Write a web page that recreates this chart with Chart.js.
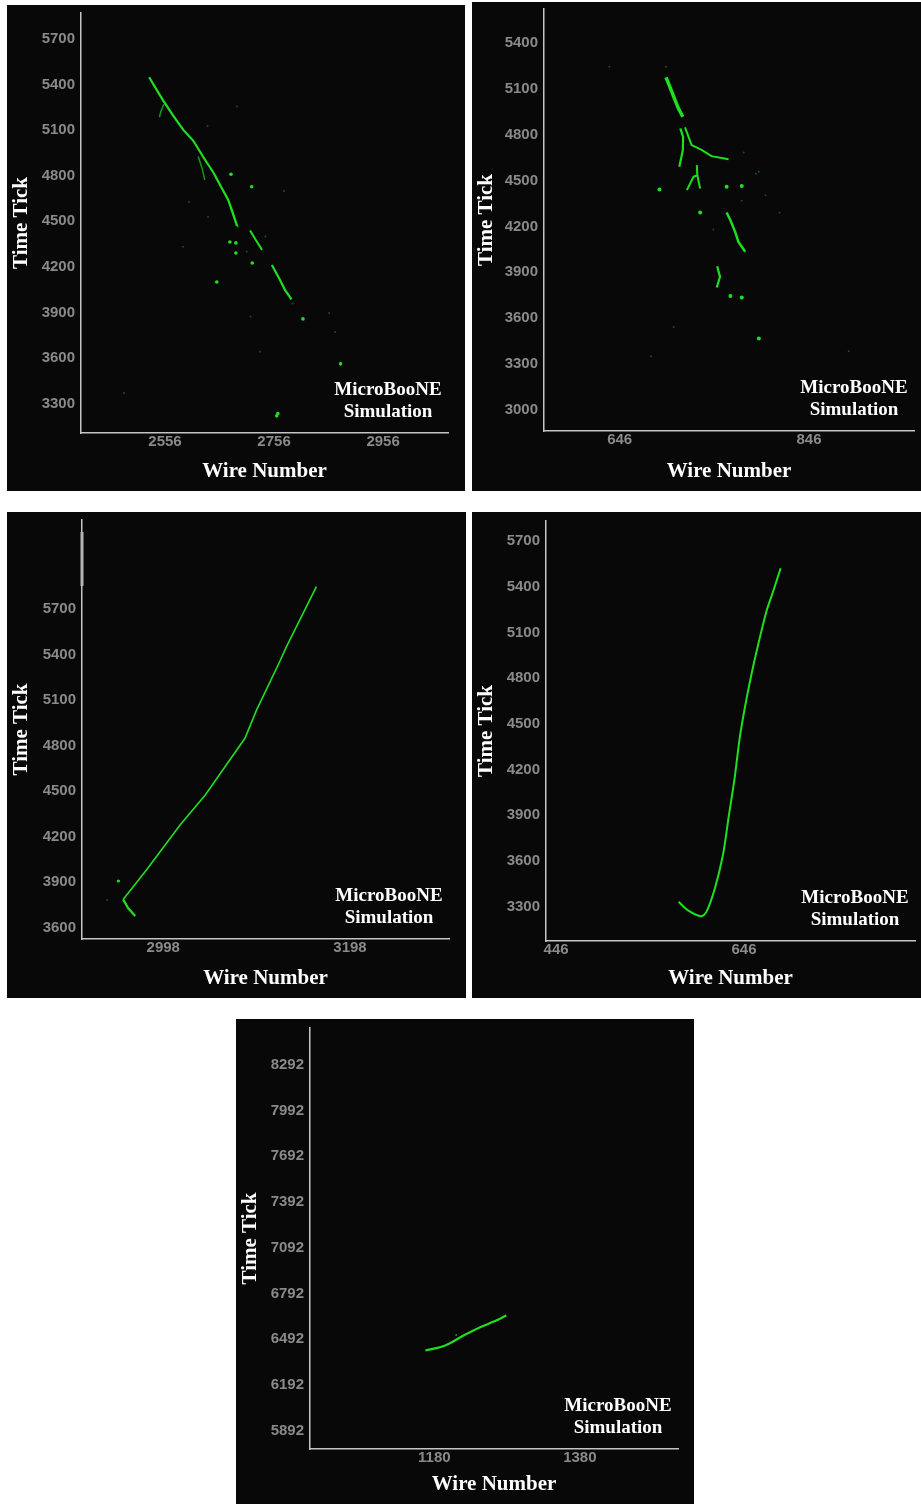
<!DOCTYPE html>
<html>
<head>
<meta charset="utf-8">
<script src="https://cdn.jsdelivr.net/npm/chart.js@4.4.1/dist/chart.umd.min.js"></script>
<style>
  body { margin: 0; background: #fff; width: 921px; height: 1504px; position: relative; }
  .panel { position: absolute; background: #080808; }
  .panel canvas { display: block; }
</style>
</head>
<body>
<div class="panel" style="left:7px;top:5px;width:458px;height:486px"><canvas id="c1" width="458" height="486"></canvas></div>
<div class="panel" style="left:472px;top:2px;width:449px;height:489px"><canvas id="c2" width="449" height="489"></canvas></div>
<div class="panel" style="left:7px;top:512px;width:459px;height:486px"><canvas id="c3" width="459" height="486"></canvas></div>
<div class="panel" style="left:472px;top:512px;width:449px;height:486px"><canvas id="c4" width="449" height="486"></canvas></div>
<div class="panel" style="left:236px;top:1019px;width:458px;height:485px"><canvas id="c5" width="458" height="485"></canvas></div>

<script>
// ---- data: [wire, time tick] pairs read from the event displays ----

// event 1
const ev1XTicks = [2556, 2756, 2956];
const ev1YTicks = [3300, 3600, 3900, 4200, 4500, 4800, 5100, 5400, 5700];
const ev1Track = [[2527,5448],[2540,5370],[2552,5299],[2570,5200],[2590,5100],[2608,5030],[2625,4930],[2645,4820],[2660,4720],[2672,4640],[2680,4560],[2688,4470]];
const ev1Branch1 = [[2554,5270],[2548,5220],[2546,5185]];
const ev1Branch2 = [[2617,4926],[2624,4850],[2629,4773]];
const ev1Branch3 = [[2676,4590],[2683,4520],[2690,4460]];
const ev1Seg2 = [[2712,4440],[2722,4380],[2734,4312]];
const ev1Seg3 = [[2752,4213],[2767,4114],[2776,4049],[2788,3987]];
const ev1Dots = [[2677,4810],[2715,4728],[2675,4364],[2686,4358],[2686,4292],[2716,4226],[2651,4101],[2809,3858],[2878,3562],[2761,3220],[2763,3235]];
const ev1Faint = [[2635,4529],[2706,4299],[2774,4700],[2713,3873],[2589,4332],[2634,5128],[2688,5255],[2481,3371],[2857,3897],[2868,3772],[2600,4628],[2730,3641],[2740,4400],[2790,3960]];

// event 2
const ev2XTicks = [646, 846];
const ev2YTicks = [3000, 3300, 3600, 3900, 4200, 4500, 4800, 5100, 5400];
const ev2TrackA = [[695,5177],[701,5083],[704.5,5028],[708,4974],[712.7,4919]];
const ev2TrackB = [[710,4843],[713,4788],[712.7,4700],[709,4591]];
const ev2BranchB = [[715,4849],[722,4733],[733,4700],[743,4661],[761,4641]];
const ev2TrackC = [[717,4438],[724,4525],[728,4536],[727.5,4602]];
const ev2TrackC2 = [[728,4536],[731,4449]];
const ev2TrackD = [[759,4292],[763,4241],[768,4165],[771.5,4099],[778.6,4034]];
const ev2TrackE = [[749,3940],[752,3870],[748.6,3800]];
const ev2Dots = [[688,4443],[759,4460],[775,4466],[731,4292],[763,3745],[775,3735],[793,3466]];
const ev2Faint = [[777,4685],[793,4558],[775,4368],[800,4405],[695,5247],[703,3542],[888,3382],[679,3350],[635,5247],[790,4545],[745,4180],[815,4290]];

// event 3
const ev3XTicks = [2998, 3198];
const ev3YTicks = [3600, 3900, 4200, 4500, 4800, 5100, 5400, 5700];
const ev3Track = [[2955,3787],[2980,3980],[3016,4277],[3043,4474],[3085.5,4848],[3098,5035],[3121,5331],[3130,5452],[3162,5847]];
const ev3Hook = [[2955,3787],[2960.5,3728],[2968,3677]];
const ev3Dots = [[2950,3908]];
const ev3Faint = [[2938,3783]];

// event 4
const ev4XTicks = [446, 646];
const ev4YTicks = [3300, 3600, 3900, 4200, 4500, 4800, 5100, 5400, 5700];
const ev4Track = [[576.4,3332],[586,3278],[600.5,3238],[606,3266],[615,3420],[623.6,3639],[629.7,3890],[636,4142],[641.4,4405],[646.8,4602],[653.8,4820],[661,5017],[669.8,5236],[676.9,5367],[685,5521]];

// event 5
const ev5XTicks = [1180, 1380];
const ev5YTicks = [5892, 6192, 6492, 6792, 7092, 7392, 7692, 7992, 8292];
const ev5Track = [[1167.6,6417],[1195,6450],[1220,6515],[1243,6570],[1261.6,6607],[1279,6647]];
const ev5Faint = [[1210,6519]];

// ---- styling ----
const GREEN = '#1ee01e';
const DIM = '#139a13';
const FAINT = '#0b5a0b';
const AXIS = '#c4c4c4';
const TICK = '#8a8a8a';
const tickFont = { family: '"Liberation Sans", Arial, sans-serif', size: 15, weight: 'bold', lineHeight: 1.2 };
const titleFont = { family: '"Liberation Serif", "Times New Roman", serif', size: 21, weight: 'bold', lineHeight: 1.2 };

const pts = arr => arr.map(p => ({ x: p[0], y: p[1] }));

function track(arr, width = 2, color = GREEN, tension = 0) {
    return { data: pts(arr), showLine: true, borderColor: color, borderWidth: width, pointRadius: 0, tension };
}

function dots(arr, r, color) {
    return { data: pts(arr), showLine: false, pointRadius: r, backgroundColor: color, borderWidth: 0 };
}

// "MicroBooNE Simulation" stamp in the lower right corner of the plot area
const simLabel = {
    id: 'simLabel',
    afterDraw(chart, args, opts) {
        const { ctx, chartArea: a } = chart;
        ctx.save();
        ctx.fillStyle = '#fff';
        ctx.font = 'bold 19px "Liberation Serif", "Times New Roman", serif';
        ctx.textAlign = 'center';
        ctx.textBaseline = 'middle';
        ctx.fillText('MicroBooNE', a.right - 60, a.bottom - 43);
        ctx.fillText('Simulation', a.right - 60, a.bottom - 21);
        // one display has a leftover scrollbar thumb on the time axis
        if (opts.scrollbar) {
            ctx.fillStyle = '#b4b4b4';
            ctx.fillRect(a.left - 1.5, a.top + 12, 3, 54);
        }
        ctx.restore();
    }
};

function makePanel(canvasId, box, xRange, yRange, xTicks, yTicks, datasets, extra = {}) {
    new Chart(document.getElementById(canvasId), {
        type: 'scatter',
        data: { datasets },
        options: {
            responsive: false,
            animation: false,
            layout: { padding: { top: box.top, right: box.right, left: 0, bottom: 0 } },
            plugins: { legend: { display: false }, tooltip: { enabled: false }, simLabel: extra },
            scales: {
                x: {
                    type: 'linear', min: xRange[0], max: xRange[1],
                    grid: { display: false, drawTicks: false },
                    border: { display: true, color: AXIS, width: 1.5 },
                    ticks: { color: TICK, font: tickFont, padding: 0, autoSkip: false, maxRotation: 0, callback: v => String(v) },
                    afterBuildTicks: s => { s.ticks = xTicks.map(v => ({ value: v })); },
                    afterFit: s => { s.height = box.bottom; s.paddingLeft = 0; s.paddingRight = 0; },
                    title: { display: true, text: 'Wire Number', color: '#fff', font: titleFont, padding: { top: 0, bottom: 7 } }
                },
                y: {
                    type: 'linear', min: yRange[0], max: yRange[1],
                    grid: { display: false, drawTicks: false },
                    border: { display: true, color: AXIS, width: 1.5 },
                    ticks: { color: TICK, font: tickFont, padding: 6, autoSkip: false, callback: v => String(v) },
                    afterBuildTicks: s => { s.ticks = yTicks.map(v => ({ value: v })); },
                    afterFit: s => { s.width = box.left; s.paddingTop = 0; s.paddingBottom = 0; },
                    title: { display: true, text: 'Time Tick', color: '#fff', font: titleFont, padding: { top: 2, bottom: 0 } }
                }
            }
        },
        plugins: [simLabel]
    });
}

makePanel('c1', { left: 74, top: 8, right: 17, bottom: 58 }, [2402, 3075], [3107, 5871], ev1XTicks, ev1YTicks, [
    track(ev1Track, 2.2), track(ev1Branch1, 1.5, DIM), track(ev1Branch2, 1.5, DIM), track(ev1Branch3, 1.5, DIM),
    track(ev1Seg2, 2), track(ev1Seg3, 2.2),
    dots(ev1Dots, 1.8, GREEN), dots(ev1Faint, 1, FAINT)
]);

makePanel('c2', { left: 72, top: 7, right: 7, bottom: 60 }, [566, 957], [2860, 5625], ev2XTicks, ev2YTicks, [
    track(ev2TrackA, 3.5), track(ev2TrackB, 2.2), track(ev2BranchB, 2), track(ev2TrackC, 2), track(ev2TrackC2, 2),
    track(ev2TrackD, 2.5), track(ev2TrackE, 2.2),
    dots(ev2Dots, 2, GREEN), dots(ev2Faint, 1, FAINT)
]);

makePanel('c3', { left: 75, top: 8, right: 17, bottom: 59 }, [2911, 3304], [3526, 6286], ev3XTicks, ev3YTicks, [
    track(ev3Track, 1.6), track(ev3Hook, 2.2),
    dots(ev3Dots, 1.6, GREEN), dots(ev3Faint, 1, FAINT)
], { scrollbar: true });

makePanel('c4', { left: 74, top: 9, right: 6, bottom: 57 }, [435.3, 828], [3075, 5831], ev4XTicks, ev4YTicks, [
    track(ev4Track, 2, GREEN, 0.3)
]);

makePanel('c5', { left: 74, top: 9, right: 16, bottom: 55 }, [1009, 1515], [5771, 8533], ev5XTicks, ev5YTicks, [
    track(ev5Track, 2.2, GREEN, 0.3), dots(ev5Faint, 1, DIM)
]);
</script>
</body>
</html>
